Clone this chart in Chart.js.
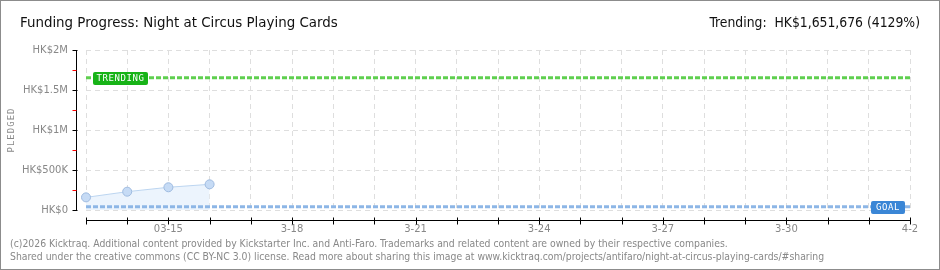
<!DOCTYPE html>
<html>
<head>
<meta charset="utf-8">
<script src="https://cdn.jsdelivr.net/npm/chart.js@4/dist/chart.umd.min.js"></script>
<style>
  html, body { margin: 0; padding: 0; background: #fff; }
  #wrap { position: relative; width: 940px; height: 270px; box-sizing: border-box; border: 1px solid #8c8c8c; overflow: hidden; }
  #chart { position: absolute; left: -1px; top: -1px; }
  .txt { position: absolute; white-space: nowrap; pointer-events: none; }
  #title { left: 19px; top: 12px; font: 14.9px "DejaVu Sans Condensed", sans-serif; color: #111; }
  #trend { right: 19px; top: 13px; font: 13.8px "DejaVu Sans Condensed", sans-serif; color: #111; }
  .foot { left: 9px; font: 10.35px "DejaVu Sans Condensed", sans-serif; color: #888; }
</style>
</head>
<body>
<div id="wrap">
  <canvas id="chart" width="940" height="270"></canvas>
  <div id="title" class="txt">Funding Progress: Night at Circus Playing Cards</div>
  <div id="trend" class="txt">Trending:&nbsp; HK$1,651,676 (4129%)</div>
  <div class="txt foot" style="top:236px">(c)2026 Kicktraq. Additional content provided by Kickstarter Inc. and Anti-Faro. Trademarks and related content are owned by their respective companies.</div>
  <div class="txt foot" style="top:249px">Shared under the creative commons (CC BY-NC 3.0) license. Read more about sharing this image at www.kicktraq.com/projects/antifaro/night-at-circus-playing-cards/#sharing</div>
</div>
<script>
// ----------- Dane -----------
const days = ['3-13','3-14','3-15','3-16','3-17','3-18','3-19','3-20','3-21','3-22','3-23',
              '3-24','3-25','3-26','3-27','3-28','3-29','3-30','3-31','4-1','4-2'];
const xTickLabels = { '3-15': '03-15', '3-18': '3-18', '3-21': '3-21', '3-24': '3-24',
                      '3-27': '3-27', '3-30': '3-30', '4-2': '4-2' };
const pledged = [158000, 229000, 284000, 321000];
const goal = 40000;
const trending = 1651676;
const yTicks = [0, 500000, 1000000, 1500000, 2000000];
const yTickLabels = ['HK$0', 'HK$500K', 'HK$1M', 'HK$1.5M', 'HK$2M'];

const first = days[0], last = days[days.length - 1];

// axis lines drawn a bit away from the plot, like kicktraq does
const axesPlugin = {
    id: 'axes',
    afterDraw(chart) {
        const { ctx, chartArea: a, scales: { x, y } } = chart;
        ctx.save();
        ctx.lineWidth = 1;
        ctx.strokeStyle = '#000';
        const ax = a.left - 9.5;
        ctx.beginPath();
        ctx.moveTo(ax, a.top); ctx.lineTo(ax, a.bottom + 1);
        yTicks.forEach(v => { const p = Math.round(y.getPixelForValue(v)) + 0.5; ctx.moveTo(ax - 4, p); ctx.lineTo(ax + 1, p); });
        ctx.stroke();
        ctx.strokeStyle = '#ff0000';
        ctx.beginPath();
        for (let i = 0; i < yTicks.length - 1; i++) {
            const p = Math.round(y.getPixelForValue((yTicks[i] + yTicks[i + 1]) / 2)) + 0.5;
            ctx.moveTo(ax - 4, p); ctx.lineTo(ax, p);
        }
        ctx.stroke();
        const by = a.bottom + 10.5;
        ctx.strokeStyle = '#000';
        ctx.beginPath();
        ctx.moveTo(a.left, by); ctx.lineTo(a.right + 1, by);
        days.forEach((d, i) => { const p = Math.round(x.getPixelForValue(i)) + 0.5; ctx.moveTo(p, by - 3); ctx.lineTo(p, by + 4); });
        ctx.stroke();

        // PLEDGED
        ctx.fillStyle = '#888';
        ctx.font = '9px "DejaVu Sans Mono", monospace';
        ctx.letterSpacing = '1px';
        ctx.translate(12, (a.top + a.bottom) / 2);
        ctx.rotate(-Math.PI / 2);
        ctx.textAlign = 'center';
        ctx.textBaseline = 'middle';
        ctx.fillText('PLEDGED', 0, 0);
        ctx.restore();

        // etykiety TRENDING / GOAL
        const tag = (text, color, left, yVal, w) => {
            const py = Math.round(y.getPixelForValue(yVal));
            ctx.save();
            ctx.fillStyle = color;
            ctx.beginPath();
            ctx.roundRect(left, py - 6, w, 13, 2);
            ctx.fill();
            ctx.fillStyle = '#fff';
            ctx.font = '9px "DejaVu Sans Mono", monospace';
            ctx.letterSpacing = '0.6px';
            ctx.textBaseline = 'middle';
            ctx.textAlign = 'center';
            ctx.fillText(text, left + w / 2, py + 1);
            ctx.restore();
        };
        tag('TRENDING', '#17b317', a.left + 7, trending, 55);
        tag('GOAL', '#3a86d6', a.right - 39, goal, 34);
    }
};

new Chart(document.getElementById('chart'), {
    type: 'line',
    data: {
        labels: days,
        datasets: [
            {
                data: [{ x: first, y: trending }, { x: last, y: trending }],
                borderColor: '#5fcf4f', borderWidth: 3, borderDash: [5, 2],
                pointRadius: 0, fill: false, order: 1
            },
            {
                data: [{ x: first, y: goal }, { x: last, y: goal }],
                borderColor: '#8db6e6', borderWidth: 3, borderDash: [5, 2],
                pointRadius: 0, fill: false, order: 2
            },
            {
                data: pledged,
                borderColor: '#bcd5f0', borderWidth: 1,
                backgroundColor: '#ecf4fd', fill: 'origin', tension: 0,
                pointRadius: 4.5, pointBackgroundColor: '#c6dbf5', pointBorderColor: '#9fbbe0', pointBorderWidth: 1,
                order: 3
            }
        ]
    },
    options: {
        responsive: false,
        animation: false,
        layout: { padding: { left: 0, right: 30, top: 50, bottom: 0 } },
        plugins: { legend: { display: false }, tooltip: { enabled: false } },
        scales: {
            x: {
                offset: false,
                afterFit: s => { s.height = 60; },
                grid: { color: '#dedede', drawTicks: false, tickLength: 0 },
                border: { display: false, dash: [5, 4] },
                ticks: {
                    autoSkip: false, maxRotation: 0, padding: 13, color: '#888',
                    font: { family: 'DejaVu Sans', size: 10 },
                    callback: (v, i) => xTickLabels[days[i]] || ''
                }
            },
            y: {
                min: 0, max: 2000000,
                afterFit: s => { s.width = 86; },
                afterBuildTicks: s => { s.ticks = yTicks.map(v => ({ value: v })); },
                grid: { color: '#dedede', drawTicks: false, tickLength: 0 },
                border: { display: false, dash: [5, 4] },
                ticks: {
                    padding: 18, color: '#888',
                    font: { family: 'DejaVu Sans', size: 10 },
                    callback: v => yTickLabels[yTicks.indexOf(v)]
                }
            }
        }
    },
    plugins: [axesPlugin]
});
</script>
</body>
</html>
